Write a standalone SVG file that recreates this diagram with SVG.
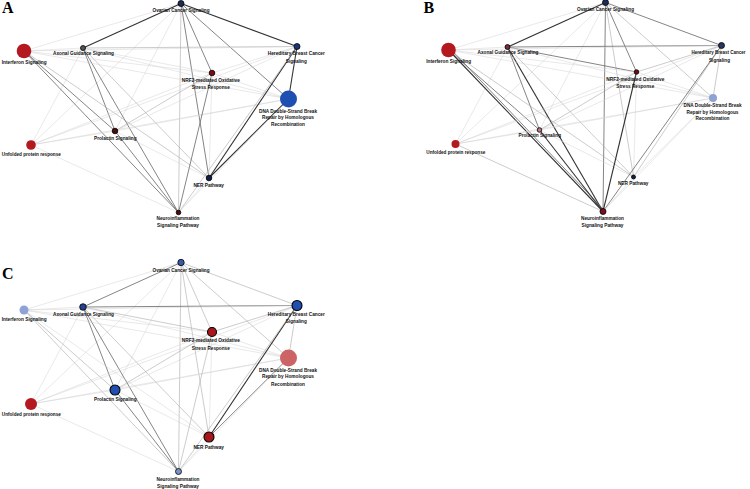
<svg xmlns="http://www.w3.org/2000/svg" width="750" height="489" viewBox="0 0 750 489">
<style>
.bg{fill:#fff}
.e1{stroke:#d2d2d2;stroke-width:0.5;fill:none}
.e2{stroke:#aaa;stroke-width:0.6;fill:none}
.e3{stroke:#666;stroke-width:0.8;fill:none}
.e4{stroke:#333;stroke-width:1.1;fill:none}
.lb{font-family:"Liberation Sans",Arial,sans-serif;font-size:4.9px;font-weight:bold;fill:#111;text-anchor:middle}
.pl{font-family:"Liberation Serif","Times New Roman",serif;font-size:16px;font-weight:bold;fill:#000}
.s{stroke:#000;stroke-width:0.8}
</style>
<rect class="bg" width="750" height="489"/>
<text class="pl" x="2" y="12.5">A</text>
<text class="pl" x="423.5" y="13">B</text>
<text class="pl" x="2" y="279">C</text>

<!-- Panel A -->
<g id="panelA">
<g id="edgesA">
<line class="e1" x1="181" y1="3.5" x2="24" y2="51"/>
<line class="e1" x1="181" y1="3.5" x2="115" y2="131"/>
<line class="e1" x1="181" y1="3.5" x2="31" y2="145"/>
<line class="e2" x1="181" y1="3.5" x2="178.5" y2="212.5"/>
<line class="e3" x1="181" y1="3.5" x2="212" y2="73"/>
<line class="e3" x1="181" y1="3.5" x2="288.5" y2="99"/>
<line class="e3" x1="181" y1="3.5" x2="209" y2="178"/>
<line class="e2" x1="83" y1="48" x2="297" y2="46.5"/>
<line class="e1" x1="83" y1="48" x2="212" y2="73"/>
<line class="e1" x1="83" y1="48" x2="288.5" y2="99"/>
<line class="e3" x1="83" y1="48" x2="115" y2="131"/>
<line class="e3" x1="83" y1="48" x2="178.5" y2="212.5"/>
<line class="e2" x1="83" y1="48" x2="209" y2="178"/>
<line class="e1" x1="83" y1="48" x2="31" y2="145"/>
<line class="e1" x1="24" y1="51" x2="83" y2="48"/>
<line class="e1" x1="24" y1="51" x2="297" y2="46.5"/>
<line class="e1" x1="24" y1="51" x2="212" y2="73"/>
<line class="e1" x1="24" y1="51" x2="288.5" y2="99"/>
<line class="e3" x1="24" y1="51" x2="115" y2="131"/>
<line class="e3" x1="24" y1="51" x2="178.5" y2="212.5"/>
<line class="e2" x1="24" y1="51" x2="209" y2="178"/>
<line class="e1" x1="31" y1="145" x2="115" y2="131"/>
<line class="e1" x1="31" y1="145" x2="212" y2="73"/>
<line class="e1" x1="31" y1="145" x2="297" y2="46.5"/>
<line class="e1" x1="31" y1="145" x2="288.5" y2="99"/>
<line class="e1" x1="31" y1="145" x2="178.5" y2="212.5"/>
<line class="e2" x1="115" y1="131" x2="212" y2="73"/>
<line class="e1" x1="115" y1="131" x2="297" y2="46.5"/>
<line class="e1" x1="115" y1="131" x2="288.5" y2="99"/>
<line class="e3" x1="115" y1="131" x2="178.5" y2="212.5"/>
<line class="e1" x1="115" y1="131" x2="209" y2="178"/>
<line class="e3" x1="212" y1="73" x2="178.5" y2="212.5"/>
<line class="e1" x1="212" y1="73" x2="209" y2="178"/>
<line class="e1" x1="212" y1="73" x2="297" y2="46.5"/>
<line class="e1" x1="212" y1="73" x2="288.5" y2="99"/>
<line class="e4" x1="297" y1="46.5" x2="288.5" y2="99"/>
<line class="e4" x1="297" y1="46.5" x2="209" y2="178"/>
<line class="e4" x1="288.5" y1="99" x2="209" y2="178"/>
<line class="e2" x1="297" y1="46.5" x2="178.5" y2="212.5"/>
<line class="e1" x1="288.5" y1="99" x2="178.5" y2="212.5"/>
<line class="e1" x1="209" y1="178" x2="178.5" y2="212.5"/>
<line class="e4" x1="181" y1="3.5" x2="83" y2="48"/>
<line class="e4" x1="181" y1="3.5" x2="297" y2="46.5"/>
</g>
<g id="A-ov"><circle class="s" cx="181" cy="3.5" r="3" fill="#1d2b55"/><text class="lb" x="181" y="12" textLength="57" lengthAdjust="spacingAndGlyphs">Ovarian Cancer Signaling</text></g>
<g id="A-ax"><circle class="s" cx="83" cy="48" r="2.5" fill="#555"/><text class="lb" x="83.5" y="55" textLength="61" lengthAdjust="spacingAndGlyphs">Axonal Guidance Signaling</text></g>
<g id="A-if"><circle cx="24" cy="51" r="7.3" fill="#b3191f"/><text class="lb" x="24.2" y="63.5" textLength="45" lengthAdjust="spacingAndGlyphs">Interferon Signaling</text></g>
<g id="A-hb"><circle class="s" cx="297" cy="46.5" r="3" fill="#1c3578"/><text class="lb" x="296.3" y="55" textLength="57" lengthAdjust="spacingAndGlyphs">Hereditary Breast Cancer</text><text class="lb" x="296.3" y="62.5" textLength="21" lengthAdjust="spacingAndGlyphs">Signaling</text></g>
<g id="A-nrf"><circle class="s" cx="212" cy="73" r="2.8" fill="#7c0c12"/><text class="lb" x="210.8" y="82" textLength="58" lengthAdjust="spacingAndGlyphs">NRF2-mediated Oxidative</text><text class="lb" x="210.8" y="88.5" textLength="38" lengthAdjust="spacingAndGlyphs">Stress Response</text></g>
<g id="A-dna"><circle cx="288.5" cy="99" r="8.5" fill="#1f4fb0"/><text class="lb" x="288" y="112.5" textLength="58" lengthAdjust="spacingAndGlyphs">DNA Double-Strand Break</text><text class="lb" x="288" y="119" textLength="52" lengthAdjust="spacingAndGlyphs">Repair by Homologous</text><text class="lb" x="288" y="125.8" textLength="34" lengthAdjust="spacingAndGlyphs">Recombination</text></g>
<g id="A-pr"><circle class="s" cx="115" cy="131" r="2.8" fill="#4a0a0e"/><text class="lb" x="115.3" y="139.5" textLength="42.5" lengthAdjust="spacingAndGlyphs">Prolactin Signaling</text></g>
<g id="A-up"><circle cx="31" cy="145" r="4.8" fill="#b3191f"/><text class="lb" x="31.3" y="155.5" textLength="59" lengthAdjust="spacingAndGlyphs">Unfolded protein response</text></g>
<g id="A-ner"><circle class="s" cx="209" cy="178" r="2.8" fill="#121d45"/><text class="lb" x="208.7" y="186.5" textLength="30.5" lengthAdjust="spacingAndGlyphs">NER Pathway</text></g>
<g id="A-ne"><circle class="s" cx="178.5" cy="212.5" r="2.3" fill="#4a0a0e"/><text class="lb" x="178" y="220" textLength="43" lengthAdjust="spacingAndGlyphs">Neuroinflammation</text><text class="lb" x="178" y="226.5" textLength="42" lengthAdjust="spacingAndGlyphs">Signaling Pathway</text></g>
</g>

<!-- Panel B -->
<g id="panelB" transform="translate(424.5,-1)">
<g id="edgesB">
<line class="e1" x1="181" y1="3.5" x2="24" y2="51"/>
<line class="e1" x1="181" y1="3.5" x2="115" y2="131"/>
<line class="e1" x1="181" y1="3.5" x2="31" y2="145"/>
<line class="e3" x1="181" y1="3.5" x2="178.5" y2="212.5"/>
<line class="e3" x1="181" y1="3.5" x2="212" y2="73"/>
<line class="e2" x1="181" y1="3.5" x2="288.5" y2="99"/>
<line class="e2" x1="181" y1="3.5" x2="209" y2="178"/>
<line class="e3" x1="83" y1="48" x2="297" y2="46.5"/>
<line class="e3" x1="83" y1="48" x2="212" y2="73"/>
<line class="e1" x1="83" y1="48" x2="288.5" y2="99"/>
<line class="e3" x1="83" y1="48" x2="115" y2="131"/>
<line class="e4" x1="83" y1="48" x2="178.5" y2="212.5"/>
<line class="e2" x1="83" y1="48" x2="209" y2="178"/>
<line class="e1" x1="83" y1="48" x2="31" y2="145"/>
<line class="e1" x1="24" y1="51" x2="83" y2="48"/>
<line class="e1" x1="24" y1="51" x2="297" y2="46.5"/>
<line class="e1" x1="24" y1="51" x2="212" y2="73"/>
<line class="e1" x1="24" y1="51" x2="288.5" y2="99"/>
<line class="e3" x1="24" y1="51" x2="115" y2="131"/>
<line class="e4" x1="24" y1="51" x2="178.5" y2="212.5"/>
<line class="e3" x1="26" y1="50" x2="180" y2="211.5"/>
<line class="e2" x1="24" y1="51" x2="209" y2="178"/>
<line class="e1" x1="31" y1="145" x2="115" y2="131"/>
<line class="e1" x1="31" y1="145" x2="212" y2="73"/>
<line class="e1" x1="31" y1="145" x2="297" y2="46.5"/>
<line class="e1" x1="31" y1="145" x2="288.5" y2="99"/>
<line class="e2" x1="31" y1="145" x2="178.5" y2="212.5"/>
<line class="e2" x1="115" y1="131" x2="212" y2="73"/>
<line class="e1" x1="115" y1="131" x2="297" y2="46.5"/>
<line class="e1" x1="115" y1="131" x2="288.5" y2="99"/>
<line class="e4" x1="115" y1="131" x2="178.5" y2="212.5"/>
<line class="e1" x1="115" y1="131" x2="209" y2="178"/>
<line class="e4" x1="212" y1="73" x2="178.5" y2="212.5"/>
<line class="e1" x1="212" y1="73" x2="209" y2="178"/>
<line class="e2" x1="212" y1="73" x2="297" y2="46.5"/>
<line class="e1" x1="212" y1="73" x2="288.5" y2="99"/>
<line class="e2" x1="297" y1="46.5" x2="288.5" y2="99"/>
<line class="e2" x1="297" y1="46.5" x2="209" y2="178"/>
<line class="e1" x1="288.5" y1="99" x2="209" y2="178"/>
<line class="e3" x1="297" y1="46.5" x2="178.5" y2="212.5"/>
<line class="e1" x1="288.5" y1="99" x2="178.5" y2="212.5"/>
<line class="e1" x1="209" y1="178" x2="178.5" y2="212.5"/>
<line class="e4" x1="181" y1="3.5" x2="83" y2="48"/>
<line class="e3" x1="181" y1="3.5" x2="297" y2="46.5"/>
</g>
<g id="B-ov"><circle class="s" cx="181" cy="3.5" r="3" fill="#1d2b55"/><text class="lb" x="181" y="12" textLength="57" lengthAdjust="spacingAndGlyphs">Ovarian Cancer Signaling</text></g>
<g id="B-ax"><circle class="s" cx="83" cy="48" r="2.5" fill="#7a2a3a"/><text class="lb" x="83.5" y="55" textLength="61" lengthAdjust="spacingAndGlyphs">Axonal Guidance Signaling</text></g>
<g id="B-if"><circle cx="24" cy="51" r="7.3" fill="#b3191f"/><text class="lb" x="24.2" y="63.5" textLength="45" lengthAdjust="spacingAndGlyphs">Interferon Signaling</text></g>
<g id="B-hb"><circle class="s" cx="297" cy="46.5" r="3" fill="#2a3560"/><text class="lb" x="294" y="55" textLength="54" lengthAdjust="spacingAndGlyphs">Hereditary Breast Cancer</text><text class="lb" x="295" y="62.5" textLength="21" lengthAdjust="spacingAndGlyphs">Signaling</text></g>
<g id="B-nrf"><circle class="s" cx="212" cy="73" r="2.3" fill="#6a0c14"/><text class="lb" x="210.8" y="82" textLength="58" lengthAdjust="spacingAndGlyphs">NRF2-mediated Oxidative</text><text class="lb" x="210.8" y="88.5" textLength="38" lengthAdjust="spacingAndGlyphs">Stress Response</text></g>
<g id="B-dna"><circle cx="288.5" cy="99" r="4" fill="#8fa2d2"/><text class="lb" x="288" y="108" textLength="58" lengthAdjust="spacingAndGlyphs">DNA Double-Strand Break</text><text class="lb" x="288" y="114.5" textLength="52" lengthAdjust="spacingAndGlyphs">Repair by Homologous</text><text class="lb" x="288" y="121" textLength="34" lengthAdjust="spacingAndGlyphs">Recombination</text></g>
<g id="B-pr"><circle class="s" cx="115" cy="131" r="2.3" fill="#b87888"/><text class="lb" x="115.3" y="138" textLength="42.5" lengthAdjust="spacingAndGlyphs">Prolactin Signaling</text></g>
<g id="B-up"><circle cx="31" cy="145" r="4" fill="#b3191f"/><text class="lb" x="31.3" y="154.5" textLength="59" lengthAdjust="spacingAndGlyphs">Unfolded protein response</text></g>
<g id="B-ner"><circle class="s" cx="209" cy="178" r="2" fill="#121d45"/><text class="lb" x="208.7" y="186" textLength="30.5" lengthAdjust="spacingAndGlyphs">NER Pathway</text></g>
<g id="B-ne"><circle class="s" cx="178.5" cy="212.5" r="3" fill="#7a1020"/><text class="lb" x="178" y="221" textLength="43" lengthAdjust="spacingAndGlyphs">Neuroinflammation</text><text class="lb" x="178" y="227.5" textLength="42" lengthAdjust="spacingAndGlyphs">Signaling Pathway</text></g>
</g>

<!-- Panel C -->
<g id="panelC" transform="translate(0,259)">
<g id="edgesC">
<line class="e1" x1="181" y1="3.5" x2="24" y2="51"/>
<line class="e1" x1="181" y1="3.5" x2="115" y2="131"/>
<line class="e1" x1="181" y1="3.5" x2="31" y2="145"/>
<line class="e2" x1="181" y1="3.5" x2="178.5" y2="212.5"/>
<line class="e2" x1="181" y1="3.5" x2="212" y2="73"/>
<line class="e2" x1="181" y1="3.5" x2="288.5" y2="99"/>
<line class="e2" x1="181" y1="3.5" x2="209" y2="178"/>
<line class="e3" x1="83" y1="48" x2="297" y2="46.5"/>
<line class="e2" x1="83" y1="48" x2="212" y2="73"/>
<line class="e1" x1="83" y1="48" x2="288.5" y2="99"/>
<line class="e3" x1="83" y1="48" x2="115" y2="131"/>
<line class="e3" x1="83" y1="48" x2="178.5" y2="212.5"/>
<line class="e2" x1="83" y1="48" x2="209" y2="178"/>
<line class="e1" x1="83" y1="48" x2="31" y2="145"/>
<line class="e1" x1="24" y1="51" x2="83" y2="48"/>
<line class="e1" x1="24" y1="51" x2="297" y2="46.5"/>
<line class="e1" x1="24" y1="51" x2="212" y2="73"/>
<line class="e1" x1="24" y1="51" x2="288.5" y2="99"/>
<line class="e2" x1="24" y1="51" x2="115" y2="131"/>
<line class="e2" x1="24" y1="51" x2="178.5" y2="212.5"/>
<line class="e1" x1="24" y1="51" x2="209" y2="178"/>
<line class="e1" x1="31" y1="145" x2="115" y2="131"/>
<line class="e1" x1="31" y1="145" x2="212" y2="73"/>
<line class="e1" x1="31" y1="145" x2="297" y2="46.5"/>
<line class="e1" x1="31" y1="145" x2="288.5" y2="99"/>
<line class="e1" x1="31" y1="145" x2="178.5" y2="212.5"/>
<line class="e2" x1="115" y1="131" x2="212" y2="73"/>
<line class="e1" x1="115" y1="131" x2="297" y2="46.5"/>
<line class="e1" x1="115" y1="131" x2="288.5" y2="99"/>
<line class="e3" x1="115" y1="131" x2="178.5" y2="212.5"/>
<line class="e1" x1="115" y1="131" x2="209" y2="178"/>
<line class="e2" x1="212" y1="73" x2="178.5" y2="212.5"/>
<line class="e1" x1="212" y1="73" x2="209" y2="178"/>
<line class="e2" x1="212" y1="73" x2="297" y2="46.5"/>
<line class="e1" x1="212" y1="73" x2="288.5" y2="99"/>
<line class="e2" x1="297" y1="46.5" x2="288.5" y2="99"/>
<line class="e4" x1="297" y1="46.5" x2="209" y2="178"/>
<line class="e3" x1="288.5" y1="99" x2="209" y2="178"/>
<line class="e2" x1="297" y1="46.5" x2="178.5" y2="212.5"/>
<line class="e1" x1="288.5" y1="99" x2="178.5" y2="212.5"/>
<line class="e1" x1="209" y1="178" x2="178.5" y2="212.5"/>
<line class="e3" x1="181" y1="3.5" x2="83" y2="48"/>
<line class="e2" x1="181" y1="3.5" x2="297" y2="46.5"/>
</g>
<g id="C-ov"><circle class="s" cx="181" cy="3.5" r="3.2" fill="#3a5aa5"/><text class="lb" x="181" y="12.5" textLength="57" lengthAdjust="spacingAndGlyphs">Ovarian Cancer Signaling</text></g>
<g id="C-ax"><circle class="s" cx="83" cy="48" r="3.3" fill="#24438f"/><text class="lb" x="83.5" y="56.5" textLength="61" lengthAdjust="spacingAndGlyphs">Axonal Guidance Signaling</text></g>
<g id="C-if"><circle cx="24" cy="51" r="4.5" fill="#8ea2d6"/><text class="lb" x="24.2" y="62" textLength="45" lengthAdjust="spacingAndGlyphs">Interferon Signaling</text></g>
<g id="C-hb"><circle cx="297" cy="46.5" r="5" fill="#1f4fb0" stroke="#000" stroke-width="1.1"/><text class="lb" x="296.3" y="57" textLength="57" lengthAdjust="spacingAndGlyphs">Hereditary Breast Cancer</text><text class="lb" x="296.3" y="64" textLength="21" lengthAdjust="spacingAndGlyphs">Signaling</text></g>
<g id="C-nrf"><circle cx="212" cy="73" r="4.5" fill="#a8161b" stroke="#000" stroke-width="1.1"/><text class="lb" x="210.8" y="83" textLength="58" lengthAdjust="spacingAndGlyphs">NRF2-mediated Oxidative</text><text class="lb" x="210.8" y="90.5" textLength="38" lengthAdjust="spacingAndGlyphs">Stress Response</text></g>
<g id="C-dna"><circle cx="288.5" cy="99" r="8.5" fill="#cc6466"/><text class="lb" x="288" y="112.5" textLength="58" lengthAdjust="spacingAndGlyphs">DNA Double-Strand Break</text><text class="lb" x="288" y="119.2" textLength="52" lengthAdjust="spacingAndGlyphs">Repair by Homologous</text><text class="lb" x="288" y="126.5" textLength="34" lengthAdjust="spacingAndGlyphs">Recombination</text></g>
<g id="C-pr"><circle cx="115" cy="131" r="5" fill="#1f4fb0" stroke="#000" stroke-width="1.1"/><text class="lb" x="115.3" y="141.8" textLength="42.5" lengthAdjust="spacingAndGlyphs">Prolactin Signaling</text></g>
<g id="C-up"><circle cx="31" cy="145" r="6" fill="#b3191f"/><text class="lb" x="31.3" y="156.8" textLength="59" lengthAdjust="spacingAndGlyphs">Unfolded protein response</text></g>
<g id="C-ner"><circle cx="209" cy="178" r="5" fill="#a8161b" stroke="#000" stroke-width="1.1"/><text class="lb" x="208.7" y="189.8" textLength="30.5" lengthAdjust="spacingAndGlyphs">NER Pathway</text></g>
<g id="C-ne"><circle class="s" cx="178.5" cy="212.5" r="3" fill="#7b90c8"/><text class="lb" x="178" y="221.5" textLength="43" lengthAdjust="spacingAndGlyphs">Neuroinflammation</text><text class="lb" x="178" y="228.5" textLength="42" lengthAdjust="spacingAndGlyphs">Signaling Pathway</text></g>
</g>
</svg>
